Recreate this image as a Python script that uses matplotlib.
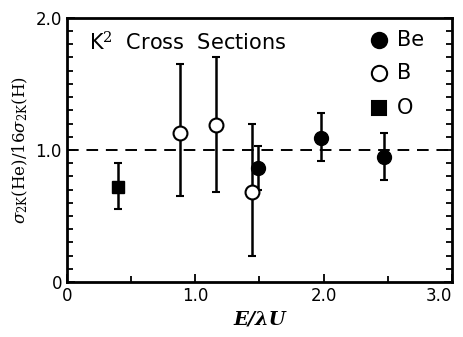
import numpy as np
import matplotlib.pyplot as plt
from matplotlib.ticker import MultipleLocator, FixedLocator

plt.rcParams['mathtext.fontset'] = 'dejavuserif'

# Be (filled circles)
be_x = [1.49, 1.98, 2.47]
be_y = [0.86, 1.09, 0.95]
be_lo = [0.70, 0.92, 0.77]
be_hi = [1.03, 1.28, 1.13]

# B (open circles)
b_x = [0.88, 1.16, 1.44]
b_y = [1.13, 1.19, 0.68]
b_lo = [0.65, 0.68, 0.20]
b_hi = [1.65, 1.70, 1.20]

# O (filled square)
o_x = [0.40]
o_y = [0.72]
o_lo = [0.55]
o_hi = [0.90]


def yerr(y, lo, hi):
    y = np.array(y)
    return [y - np.array(lo), np.array(hi) - y]


fig = plt.figure(figsize=(4.64, 3.37), dpi=100)
ax = fig.add_axes([0.144, 0.163, 0.830, 0.784])

ax.axhline(1.0, color='black', ls=(0, (6, 4)), lw=1.4, zorder=1)

ekw = dict(ecolor='black', elinewidth=1.8, capsize=3, capthick=1.5, ls='none', zorder=2)
ax.errorbar(o_x, o_y, yerr=yerr(o_y, o_lo, o_hi), fmt='s', ms=9,
            mfc='black', mec='black', **ekw)
ax.errorbar(be_x, be_y, yerr=yerr(be_y, be_lo, be_hi), fmt='o', ms=10,
            mfc='black', mec='black', **ekw)
ax.errorbar(b_x, b_y, yerr=yerr(b_y, b_lo, b_hi), fmt='o', ms=10,
            mfc='white', mec='black', mew=1.5, **ekw)

# legend drawn as markers + text
leg_y = [1.83, 1.58, 1.32]
leg_m = ['o', 'o', 's']
leg_fc = ['black', 'white', 'black']
leg_lab = ['Be', 'B', 'O']
for yy, m, fc, lab in zip(leg_y, leg_m, leg_fc, leg_lab):
    ax.plot([2.43], [yy], marker=m, ms=11 if m == 'o' else 10, mfc=fc,
            mec='black', mew=1.5, ls='none')
    ax.text(2.57, yy, lab, fontsize=15, va='center', ha='left')

ax.text(0.17, 1.81, r'K$^2$  Cross  Sections', fontsize=15, va='center', ha='left')

ax.set_xlim(0, 3.0)
ax.set_ylim(0, 2.0)
ax.xaxis.set_major_locator(FixedLocator([0, 1.0, 2.0, 3.0]))
ax.xaxis.set_minor_locator(MultipleLocator(0.5))
ax.yaxis.set_major_locator(FixedLocator([0, 1.0, 2.0]))
ax.yaxis.set_minor_locator(MultipleLocator(0.1))
ax.set_xticklabels(['0', '1.0', '2.0', '3.0'], fontsize=12)
ax.set_yticklabels(['0', '1.0', '2.0'], fontsize=12)
ax.get_xticklabels()[-1].set_horizontalalignment('right')
ax.tick_params(which='both', direction='in', top=False, right=True, width=1.3)
ax.tick_params(which='major', length=6)
ax.tick_params(which='minor', length=4)
for s in ax.spines.values():
    s.set_linewidth(2)

ax.set_xlabel('E/λU', fontsize=14, family='serif', style='italic', fontweight='bold')
ax.set_ylabel(r'$\sigma_{2\mathrm{K}}(\mathrm{He})/16\sigma_{2\mathrm{K}}(\mathrm{H})$',
              fontsize=12)

fig.savefig('out.png', dpi=100)
